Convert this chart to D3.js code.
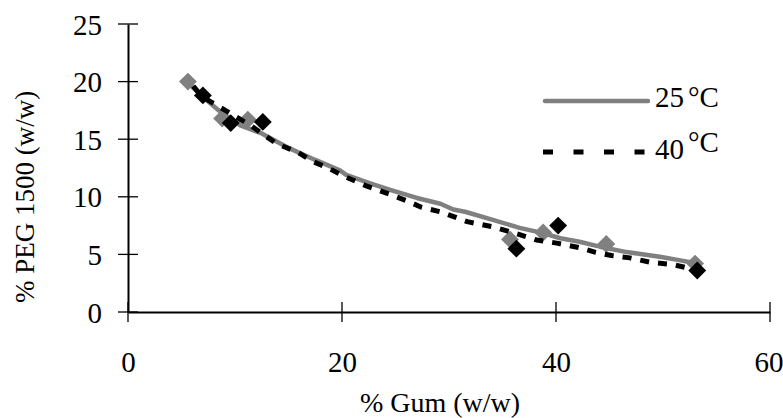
<!DOCTYPE html>
<html>
<head>
<meta charset="utf-8">
<script src="https://cdn.jsdelivr.net/npm/d3@7"></script>
<style>
  html, body { margin: 0; padding: 0; background: #fff; }
  svg { display: block; font-family: "Liberation Serif", "Times New Roman", serif; }
</style>
</head>
<body>
<svg id="chart" width="783" height="418"></svg>
<script>
// ---- data ----
const seriesNames = ["25°C", "40°C"];
const xTicks = [0, 20, 40, 60];
const yTicks = [0, 5, 10, 15, 20, 25];

// measured points (markers)
const pts25x = [5.6, 8.8, 11.2, 35.7, 38.8, 44.7, 53.0];
const pts25y = [20.0, 16.8, 16.7, 6.3, 6.9, 5.9, 4.2];
const pts40x = [7.0, 9.6, 12.6, 36.3, 40.2, 53.2];
const pts40y = [18.8, 16.4, 16.5, 5.5, 7.5, 3.6];

// curves
const line25x = [5.6, 7.2, 8.6, 10.5, 12.5, 15.1, 17.5, 19.8, 20.4, 22.5, 24.5, 27.0, 29.2, 30.4, 31.5, 34.1, 36.6, 38.8, 40.4, 42.2, 43.5, 44.1, 46.6, 49.7, 51.5, 52.8];
const line25y = [19.9, 18.5, 17.4, 16.2, 15.5, 14.2, 13.2, 12.3, 11.9, 11.2, 10.6, 9.9, 9.4, 8.9, 8.7, 8.0, 7.3, 6.85, 6.4, 6.1, 5.8, 5.67, 5.2, 4.8, 4.5, 4.28];
const line40x = [6.1, 6.9, 9.1, 11.6, 13.9, 15.8, 17.3, 18.7, 20.4, 22.4, 24.5, 26.2, 27.4, 29.2, 31.7, 34.1, 36.3, 38.2, 40.2, 42.2, 43.7, 45.2, 46.9, 48.9, 50.8, 53.1];
const line40y = [19.6, 18.7, 17.5, 16.1, 14.6, 13.9, 13.05, 12.5, 11.7, 10.9, 10.2, 9.6, 9.1, 8.7, 7.84, 7.4, 6.8, 6.25, 5.96, 5.58, 5.18, 4.9, 4.7, 4.3, 4.14, 3.65];

const xTitle = "% Gum (w/w)";
const yTitle = "% PEG 1500 (w/w)";

// ---- drawing ----
const svg = d3.select("#chart");
const x = d3.scaleLinear().domain([0, 60]).range([128, 770]);
const y = d3.scaleLinear().domain([0, 25]).range([312, 24]);
const FS = 29;

// axes
const xAxis = d3.axisBottom(x).tickValues(xTicks).tickSize(0).tickFormat(d3.format("d"));
const gx = svg.append("g").attr("transform", `translate(0,${y(0)})`).call(xAxis);
gx.attr("font-family", null).attr("font-size", null);
gx.select(".domain").attr("stroke", "#000").attr("stroke-width", 2);
gx.selectAll(".tick line").remove();
gx.selectAll(".tick text").attr("y", 60).attr("dy", 0).attr("font-size", FS)
  .attr("fill", "#000")
  .attr("text-anchor", d => d === 60 ? "end" : "middle")
  .attr("x", d => d === 60 ? 13 : 0);

const yAxis = d3.axisLeft(y).tickValues(yTicks).tickSize(0).tickFormat(d3.format("d"));
const gy = svg.append("g").attr("transform", `translate(${x(0)},0)`).call(yAxis);
gy.attr("font-family", null).attr("font-size", null);
gy.select(".domain").attr("stroke", "#000").attr("stroke-width", 2);
gy.selectAll(".tick line").remove();
gy.selectAll(".tick text").attr("x", -26).attr("dy", "0.35em").attr("font-size", FS)
  .attr("fill", "#000");

// crossing tick marks
svg.append("g").selectAll("line").data(yTicks).join("line")
  .attr("x1", x(0) - 10).attr("x2", x(0) + 10)
  .attr("y1", d => y(d)).attr("y2", d => y(d))
  .attr("stroke", "#000").attr("stroke-width", 1.3);
svg.append("g").selectAll("line").data(xTicks).join("line")
  .attr("x1", d => x(d)).attr("x2", d => x(d))
  .attr("y1", y(0) - 10).attr("y2", y(0) + 10)
  .attr("stroke", "#000").attr("stroke-width", 1.3);

// titles
svg.append("text").attr("x", 440).attr("y", 412).attr("text-anchor", "middle")
  .attr("font-size", 28).text(xTitle);
svg.append("text").attr("transform", "translate(34,197) rotate(-90)")
  .attr("text-anchor", "middle").attr("font-size", 27).text(yTitle);

const line = d3.line().x(d => x(d[0])).y(d => y(d[1]));
const diamond = d3.symbol().type(d3.symbolSquare).size(160);

// series 25 °C
const l25 = d3.zip(line25x, line25y);
svg.append("path").datum(l25).attr("d", line).attr("fill", "none")
  .attr("stroke", "#808080").attr("stroke-width", 4.5).attr("stroke-linejoin", "round");
svg.append("g").selectAll("path").data(d3.zip(pts25x, pts25y)).join("path")
  .attr("d", diamond)
  .attr("transform", d => `translate(${x(d[0])},${y(d[1])}) rotate(45)`)
  .attr("fill", "#808080");

// series 40 °C
const l40 = d3.zip(line40x, line40y);
svg.append("path").datum(l40).attr("d", line).attr("fill", "none")
  .attr("stroke", "#000").attr("stroke-width", 5).attr("stroke-dasharray", "9,9");
svg.append("g").selectAll("path").data(d3.zip(pts40x, pts40y)).join("path")
  .attr("d", diamond)
  .attr("transform", d => `translate(${x(d[0])},${y(d[1])}) rotate(45)`)
  .attr("fill", "#000");

// legend
const lg = svg.append("g");
lg.append("line").attr("x1", 545).attr("x2", 648).attr("y1", 101).attr("y2", 101)
  .attr("stroke", "#808080").attr("stroke-width", 4.5).attr("stroke-linecap", "round");
const t1 = lg.append("text").attr("x", 655).attr("y", 107).attr("font-size", FS);
t1.append("tspan").text("25");
t1.append("tspan").attr("dx", 4).text("°C");

lg.append("line").attr("x1", 543).attr("x2", 646).attr("y1", 152).attr("y2", 152)
  .attr("stroke", "#000").attr("stroke-width", 5).attr("stroke-dasharray", "10,20.5");
const t2 = lg.append("text").attr("x", 655).attr("y", 159).attr("font-size", FS);
t2.append("tspan").text("40");
t2.append("tspan").attr("dx", 4).attr("dy", -7).text("°C");
</script>
</body>
</html>
